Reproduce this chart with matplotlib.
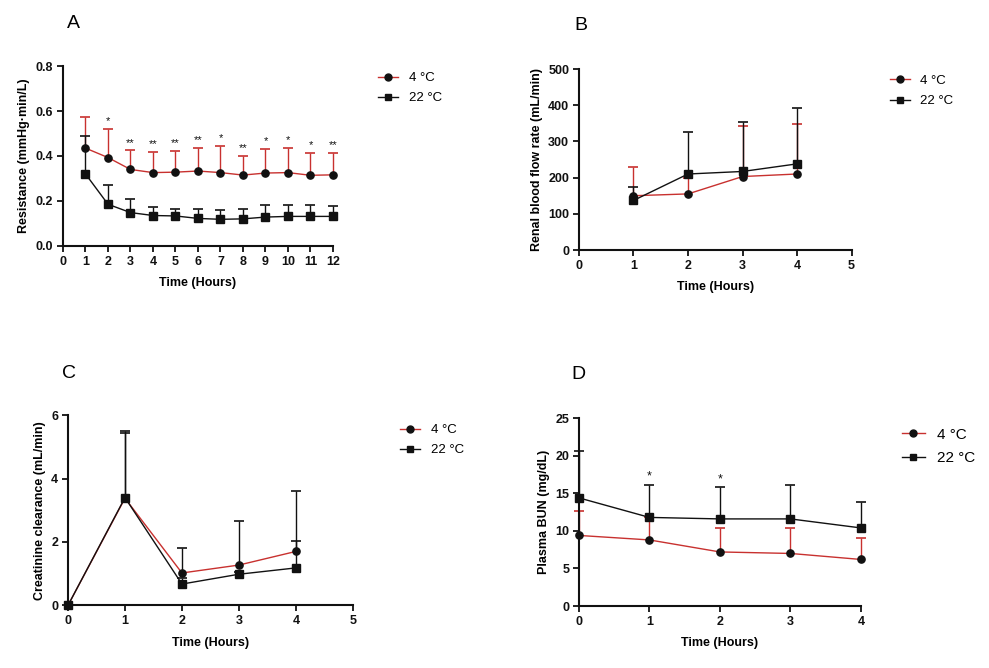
import numpy as np
import matplotlib
matplotlib.use("Agg")
import matplotlib.pyplot as plt
from matplotlib.lines import Line2D

plt.rcParams['font.family'] = ['Liberation Sans', 'DejaVu Sans']

RED = '#c8312f'
BLACK = '#111111'

# ---- Panel A: Resistance ----
a_x = [1, 2, 3, 4, 5, 6, 7, 8, 9, 10, 11, 12]
a_4 = [0.435, 0.393, 0.340, 0.326, 0.328, 0.333, 0.326, 0.315, 0.324, 0.326, 0.314, 0.316]
a_4_up = [0.575, 0.520, 0.425, 0.418, 0.422, 0.435, 0.445, 0.400, 0.433, 0.435, 0.413, 0.415]
a_22 = [0.320, 0.185, 0.148, 0.135, 0.133, 0.122, 0.118, 0.120, 0.128, 0.131, 0.131, 0.131]
a_22_up = [0.490, 0.270, 0.210, 0.175, 0.162, 0.165, 0.160, 0.165, 0.180, 0.180, 0.183, 0.177]
a_stars = ['', '*', '**', '**', '**', '**', '*', '**', '*', '*', '*', '**']

# ---- Panel B: Renal blood flow ----
b_x = [1, 2, 3, 4]
b_4 = [150, 155, 203, 210]
b_4_up = [230, 200, 343, 348]
b_22 = [137, 210, 217, 238]
b_22_up = [175, 327, 355, 392]

# ---- Panel C: Creatinine clearance ----
c_x = [0, 1, 2, 3, 4]
c_4 = [0.0, 3.38, 1.02, 1.27, 1.70]
c_4_up = [0.0, 5.45, 1.80, 2.65, 3.60]
c_22 = [0.0, 3.40, 0.67, 0.98, 1.18]
c_22_up = [0.0, 5.50, 0.85, 1.05, 2.02]

# ---- Panel D: Plasma BUN ----
d_x = [0, 1, 2, 3, 4]
d_4 = [9.4, 8.8, 7.2, 7.0, 6.2]
d_4_up = [12.6, 11.8, 10.4, 10.4, 9.1]
d_22 = [14.4, 11.8, 11.6, 11.6, 10.4]
d_22_up = [20.6, 16.1, 15.8, 16.1, 13.8]
d_stars = ['', '*', '*', '', '']

labels = ['4 °C', '22 °C']

fig = plt.figure(figsize=(9.89, 6.68), dpi=100)

axA = fig.add_axes([0.0637, 0.632, 0.273, 0.269])
axB = fig.add_axes([0.5854, 0.6257, 0.2757, 0.271])
axC = fig.add_axes([0.0688, 0.0939, 0.2879, 0.2844])
axD = fig.add_axes([0.5854, 0.0928, 0.2851, 0.281])


def series(ax, x, y, up, line_color, err_color, marker, ms=5.2, z=3):
    x = np.asarray(x, float)
    y = np.asarray(y, float)
    up = np.asarray(up, float)
    ax.vlines(x, y, up, color=err_color, lw=1.0, zorder=z - 1, clip_on=False)
    mask = up > y
    ax.plot(x[mask], up[mask], ls='none', marker='_', markersize=7,
            markeredgewidth=1.2, color=err_color, zorder=z - 1, clip_on=False)
    ax.plot(x, y, color=line_color, lw=1.0, marker=marker, markersize=ms,
            markerfacecolor=BLACK, markeredgecolor=BLACK, zorder=z,
            clip_on=False)


def style(ax, xlim, ylim, xticks, yticks, ylabel, yfmt=None, tick_fs=9):
    ax.set_xlim(*xlim)
    ax.set_ylim(*ylim)
    ax.set_xticks(xticks)
    ax.set_yticks(yticks)
    if yfmt:
        ax.set_yticklabels([yfmt.format(v) for v in yticks])
    for s in ['top', 'right']:
        ax.spines[s].set_visible(False)
    for s in ['left', 'bottom']:
        ax.spines[s].set_linewidth(1.5)
        ax.spines[s].set_color(BLACK)
    ax.tick_params(direction='out', length=4, width=1.3, labelsize=tick_fs,
                   pad=3, colors=BLACK)
    for lab in ax.get_xticklabels() + ax.get_yticklabels():
        lab.set_fontweight('bold')
    ax.set_xlabel('Time (Hours)', fontsize=9, fontweight='bold', labelpad=7)
    ax.set_ylabel(ylabel, fontsize=9, fontweight='bold', labelpad=4)


def legend(ax, loc, fs=9.5, ms=5):
    handles = [
        Line2D([], [], color=RED, lw=1.0, marker='o', markersize=ms,
               markerfacecolor=BLACK, markeredgecolor=BLACK),
        Line2D([], [], color=BLACK, lw=1.0, marker='s', markersize=ms,
               markerfacecolor=BLACK, markeredgecolor=BLACK),
    ]
    ax.legend(handles, labels, loc='upper left', bbox_to_anchor=loc,
              bbox_transform=fig.transFigure, frameon=False, fontsize=fs,
              handlelength=1.5, handletextpad=0.8, labelspacing=0.6,
              borderpad=0)


# Panel A
series(axA, a_x, a_4, a_4_up, RED, RED, 'o')
series(axA, a_x, a_22, a_22_up, BLACK, BLACK, 's')
for xi, top, st in zip(a_x, a_4_up, a_stars):
    if st:
        axA.text(xi, top + 0.012, st, ha='center', va='bottom', fontsize=8,
                 color=BLACK)
style(axA, (0, 12), (0, 0.8), list(range(0, 13)), [0, 0.2, 0.4, 0.6, 0.8],
      'Resistance (mmHg·min/L)', yfmt='{:.1f}')
legend(axA, (0.376, 0.902))
fig.text(0.0738, 0.965, 'A', fontsize=14, ha='center', va='center')

# Panel B
series(axB, b_x, b_4, b_4_up, RED, RED, 'o')
series(axB, b_x, b_22, b_22_up, BLACK, BLACK, 's')
style(axB, (0, 5), (0, 500), list(range(0, 6)), [0, 100, 200, 300, 400, 500],
      'Renal blood flow rate (mL/min)')
legend(axB, (0.893, 0.898))
fig.text(0.5872, 0.962, 'B', fontsize=14, ha='center', va='center')

# Panel C
series(axC, c_x, c_4, c_4_up, RED, BLACK, 'o')
series(axC, c_x, c_22, c_22_up, BLACK, BLACK, 's')
style(axC, (0, 5), (0, 6), list(range(0, 6)), [0, 2, 4, 6],
      'Creatinine clearance (mL/min)')
legend(axC, (0.398, 0.375))
fig.text(0.0698, 0.441, 'C', fontsize=14, ha='center', va='center')

# Panel D
series(axD, d_x, d_4, d_4_up, RED, RED, 'o')
series(axD, d_x, d_22, d_22_up, BLACK, BLACK, 's')
for xi, top, st in zip(d_x, d_22_up, d_stars):
    if st:
        axD.text(xi, top + 0.3, st, ha='center', va='bottom', fontsize=9,
                 color=BLACK)
style(axD, (0, 4), (0, 25), list(range(0, 5)), [0, 5, 10, 15, 20, 25],
      'Plasma BUN (mg/dL)')
legend(axD, (0.904, 0.371), fs=11)
fig.text(0.5845, 0.439, 'D', fontsize=14, ha='center', va='center')

fig.savefig('out.png', dpi=100, facecolor='white')
